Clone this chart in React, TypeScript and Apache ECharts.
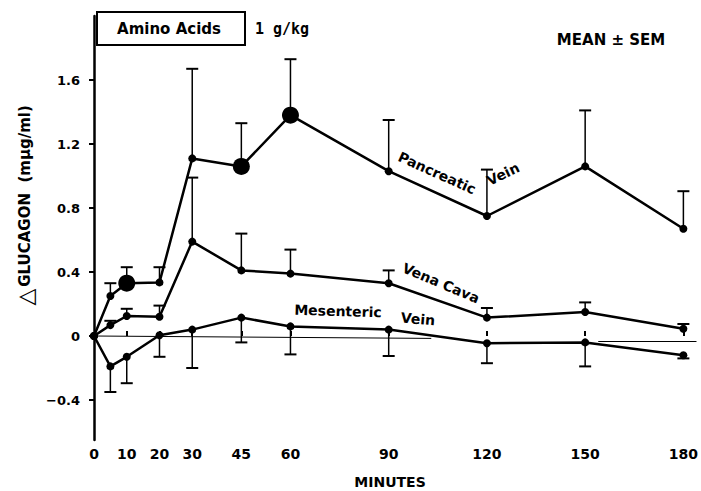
import React, { useEffect, useRef } from "react";
import * as echarts from "echarts";

const minutes = [0, 5, 10, 20, 30, 45, 60, 90, 120, 150, 180];
const xTickLabels = [0, 10, 20, 30, 45, 60, 90, 120, 150, 180];
const yTickLabels = [-0.4, 0, 0.4, 0.8, 1.2, 1.6];

const pancreatic = [0, 0.25, 0.33, 0.335, 1.11, 1.06, 1.38, 1.03, 0.75, 1.06, 0.67];
const pancreaticErr = [null, 0.33, 0.43, 0.43, 1.67, 1.33, 1.73, 1.35, 1.04, 1.41, 0.905];
const pancreaticBig = [false, false, true, false, false, true, true, false, false, false, false];

const venaCava = [0, 0.068, 0.125, 0.12, 0.59, 0.41, 0.39, 0.33, 0.115, 0.15, 0.045];
const venaCavaErr = [null, 0.095, 0.17, 0.19, 0.99, 0.64, 0.54, 0.41, 0.175, 0.21, 0.075];

const mesenteric = [0, -0.19, -0.13, 0.005, 0.04, 0.115, 0.06, 0.04, -0.045, -0.04, -0.12];
const mesentericErr = [null, -0.35, -0.295, -0.13, -0.2, -0.04, -0.115, -0.125, -0.17, -0.19, -0.14];

const baselineSegments = [
  [[0, 0], [103, -0.015]],
  [[154, -0.03], [184, -0.03]],
];

const BOLD = "bold 15px 'DejaVu Sans'";

function errSeries(vals: number[], errs: (number | null)[]) {
  const data = minutes
    .map((m, i) => (errs[i] == null ? null : [m, vals[i], errs[i]]))
    .filter((d) => d != null);
  return {
    type: "custom",
    data,
    z: 1,
    renderItem: (params: any, api: any) => {
      const p0 = api.coord([api.value(0), api.value(1)]);
      const p1 = api.coord([api.value(0), api.value(2)]);
      const cw = 6;
      return {
        type: "group",
        children: [
          { type: "line", shape: { x1: p0[0], y1: p0[1], x2: p1[0], y2: p1[1] }, style: { stroke: "#000", lineWidth: 1.5 } },
          { type: "line", shape: { x1: p1[0] - cw, y1: p1[1], x2: p1[0] + cw, y2: p1[1] }, style: { stroke: "#000", lineWidth: 2 } },
        ],
      };
    },
  };
}

function lineSeries(name: string, vals: number[], big?: boolean[]) {
  return {
    name,
    type: "line",
    data: minutes.map((m, i) => [m, vals[i]]),
    symbol: "circle",
    symbolSize: (_v: any, p: any) => (big && big[p.dataIndex] ? 17 : 8),
    lineStyle: { color: "#000", width: 2.5 },
    itemStyle: { color: "#000" },
    z: 3,
  };
}

export default function App() {
  const ref = useRef<HTMLDivElement>(null);
  useEffect(() => {
    if (!ref.current) return;
    const chart = echarts.init(ref.current, null, { renderer: "svg" });
    chart.setOption({
      animation: false,
      backgroundColor: "#fff",
      grid: { left: 94, right: 4, top: 16, bottom: 51 },
      xAxis: {
        type: "value",
        min: 0,
        max: 184,
        splitLine: { show: false },
        axisLine: { show: false },
        axisTick: { show: true, inside: true, length: 5, customValues: xTickLabels.filter((v) => v !== 0), lineStyle: { color: "#000", width: 2 } },
        axisLabel: { customValues: xTickLabels, margin: 7, color: "#000", fontFamily: "DejaVu Sans", fontWeight: "bold", fontSize: 14 },
      },
      yAxis: {
        type: "value",
        min: -0.65,
        max: 2.0,
        splitLine: { show: false },
        axisLine: { show: true, lineStyle: { color: "#000", width: 2.5 } },
        axisTick: { show: true, length: 5, customValues: yTickLabels, lineStyle: { color: "#000", width: 2 } },
        axisLabel: {
          customValues: yTickLabels,
          margin: 14,
          color: "#000",
          fontFamily: "DejaVu Sans",
          fontWeight: "bold",
          fontSize: 13,
          formatter: (v: number) => (v === 0 ? "0" : v < 0 ? "\u2212" + Math.abs(v).toFixed(1) : v.toFixed(1)),
        },
      },
      series: [
        {
          type: "line",
          data: [],
          markLine: {
            silent: true,
            symbol: "none",
            label: { show: false },
            lineStyle: { color: "#000", width: 1, type: "solid" },
            data: baselineSegments.map((s) => [{ coord: s[0] }, { coord: s[1] }]),
          },
        },
        errSeries(pancreatic, pancreaticErr),
        errSeries(venaCava, venaCavaErr),
        errSeries(mesenteric, mesentericErr),
        lineSeries("Pancreatic Vein", pancreatic, pancreaticBig),
        lineSeries("Vena Cava", venaCava),
        lineSeries("Mesenteric Vein", mesenteric),
      ],
      graphic: [
        { type: "rect", shape: { x: 97, y: 12, width: 148, height: 33 }, style: { fill: "#fff", stroke: "#000", lineWidth: 2 }, z: 10 },
        { type: "text", x: 169, y: 29, style: { text: "Amino Acids", font: BOLD, fill: "#000", textAlign: "center", textVerticalAlign: "middle" }, z: 11 },
        { type: "text", x: 282, y: 29, style: { text: "1 g/kg", font: "bold 15px 'DejaVu Sans Mono'", fill: "#000", textAlign: "center", textVerticalAlign: "middle" }, z: 11 },
        { type: "text", x: 611, y: 40, style: { text: "MEAN \u00b1 SEM", font: BOLD, fill: "#000", textAlign: "center", textVerticalAlign: "middle" }, z: 11 },
        { type: "text", x: 25, y: 297, rotation: Math.PI / 2, style: { text: "\u25b3", font: "bold 22px 'DejaVu Sans'", fill: "#000", textAlign: "center", textVerticalAlign: "middle" }, z: 11 },
        { type: "text", x: 25, y: 196, rotation: Math.PI / 2, style: { text: "GLUCAGON  (m\u03bcg/ml)", font: BOLD, fill: "#000", textAlign: "center", textVerticalAlign: "middle" }, z: 11 },
        { type: "text", x: 390, y: 482, style: { text: "MINUTES", font: "bold 14px 'DejaVu Sans'", fill: "#000", textAlign: "center", textVerticalAlign: "middle" }, z: 11 },
        { type: "text", x: 437, y: 173, rotation: -0.42, style: { text: "Pancreatic", font: "bold 14px 'DejaVu Sans'", fill: "#000", textAlign: "center", textVerticalAlign: "middle" }, z: 11 },
        { type: "text", x: 503, y: 174, rotation: 0.45, style: { text: "Vein", font: "bold 14px 'DejaVu Sans'", fill: "#000", textAlign: "center", textVerticalAlign: "middle" }, z: 11 },
        { type: "text", x: 441, y: 283, rotation: -0.4, style: { text: "Vena Cava", font: "bold 14px 'DejaVu Sans'", fill: "#000", textAlign: "center", textVerticalAlign: "middle" }, z: 11 },
        { type: "text", x: 338, y: 311, rotation: -0.03, style: { text: "Mesenteric", font: "bold 14px 'DejaVu Sans'", fill: "#000", textAlign: "center", textVerticalAlign: "middle" }, z: 11 },
        { type: "text", x: 418, y: 319, rotation: -0.08, style: { text: "Vein", font: "bold 14px 'DejaVu Sans'", fill: "#000", textAlign: "center", textVerticalAlign: "middle" }, z: 11 },
      ],
    });
    return () => chart.dispose();
  }, []);
  return <div ref={ref} style={{ width: 701, height: 491, position: "absolute", left: 0, top: 0 }} />;
}
